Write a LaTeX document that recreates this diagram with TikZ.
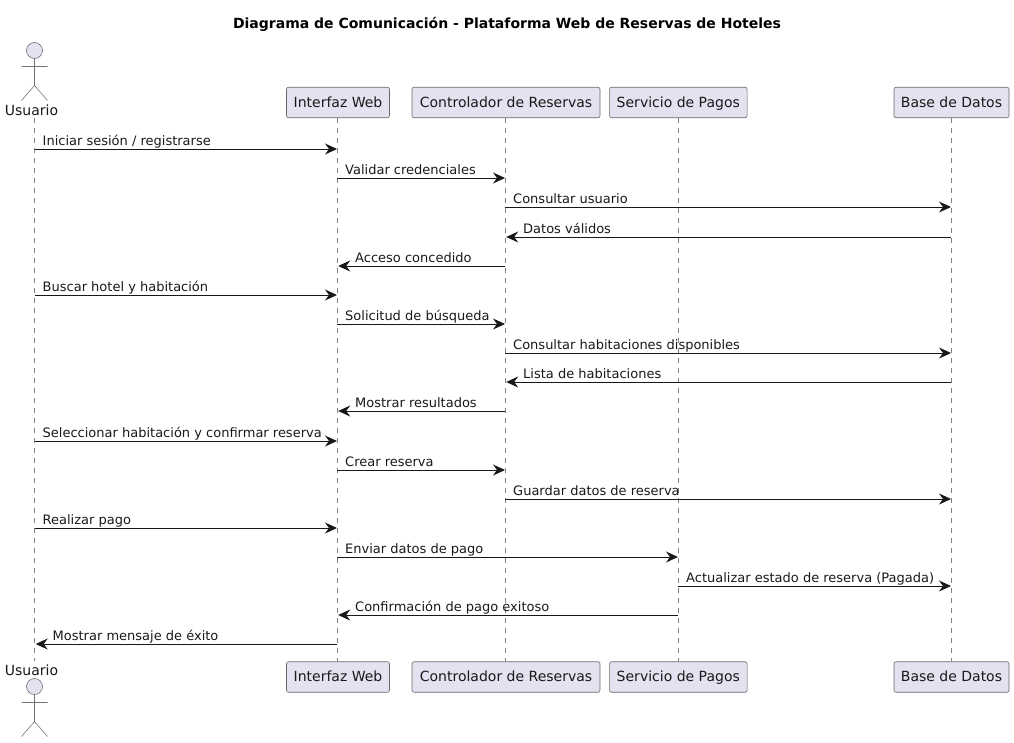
\documentclass[tikz,border=0pt]{standalone}
\usepackage{fontspec}
\setmainfont{DejaVu Sans}
\usetikzlibrary{arrows.meta}
\definecolor{boxfill}{HTML}{E2E2F0}
\definecolor{ink}{HTML}{181818}
\tikzset{
  part/.style={draw=ink!65,line width=0.6pt,fill=boxfill,rounded corners=2pt,font=\fontsize{14}{16}\selectfont,text=black!90,minimum height=30.5pt,inner sep=0pt,anchor=center,text height=12pt,text depth=2.5pt},
  life/.style={draw=ink!55,line width=0.5pt,dash pattern=on 5pt off 5pt},
  msgline/.style={draw=ink,line width=1pt,-{Stealth[length=12pt,width=11pt,inset=4pt,fill=ink]}},
  msgtext/.style={font=\fontsize{13}{15}\selectfont,text=black!90,anchor=base west,inner sep=0pt},
  actorline/.style={draw=ink!60,line width=0.6pt},
  actorname/.style={font=\fontsize{14}{16}\selectfont,text=black!90,anchor=base,inner sep=0pt}
}
\newcommand{\msgR}[5]{% id from to y text
  \coordinate (#1a) at (#2 |- 0,#4);
  \coordinate (#1b) at (#3 |- 0,#4);
  \draw[msgline] (#1a) -- (#1b);
  \node[msgtext] (#1t) at ([xshift=8pt,yshift=3.7pt]#1a) {#5};
}
\newcommand{\msgL}[5]{%
  \coordinate (#1a) at (#2 |- 0,#4);
  \coordinate (#1b) at (#3 |- 0,#4);
  \draw[msgline] (#1a) -- ([xshift=1.2pt]#1b);
  \node[msgtext] (#1t) at ([xshift=18pt,yshift=3.7pt]#1b) {#5};
}
\newcommand{\stick}[2]{% x, head y
  \draw[actorline,fill=boxfill] (#1,#2) circle[radius=8pt];
  \draw[actorline] (#1,#2+8) -- (#1,#2+35) (#1-13,#2+16) -- (#1+13,#2+16)
    (#1-13,#2+50) -- (#1,#2+35) -- (#1+13,#2+50);
}
\begin{document}
\begin{tikzpicture}[x=1pt,y=-1pt]
\useasboundingbox (0,0) rectangle (1014,742);
\node[font=\bfseries\fontsize{14}{16}\selectfont,text=black,anchor=base,inner sep=0pt] (title) at (507,28) {Diagrama de Comunicación - Plataforma Web de Reservas de Hoteles};
% top participants
\coordinate (u) at (34.5,118);
\node[part,minimum width=103pt] (i) at (338,102.5) {Interfaz Web};
\node[part,minimum width=188pt] (c) at (506,102.5) {Controlador de Reservas};
\node[part,minimum width=137.5pt] (s) at (678.3,102.5) {Servicio de Pagos};
\node[part,minimum width=115pt] (b) at (951.5,102.5) {Base de Datos};
% bottom participants
\coordinate (ub) at (34.5,661);
\node[part,minimum width=103pt] (ib) at (338,677) {Interfaz Web};
\node[part,minimum width=188pt] (cb) at (506,677) {Controlador de Reservas};
\node[part,minimum width=137.5pt] (sb) at (678.3,677) {Servicio de Pagos};
\node[part,minimum width=115pt] (bb) at (951.5,677) {Base de Datos};
% lifelines
\draw[life] (u) -- (ub);
\draw[life] (i.south -| 337,0) -- (ib.north -| 337,0);
\draw[life] (c.south -| 505,0) -- (cb.north -| 505,0);
\draw[life] (s.south -| 678,0) -- (sb.north -| 678,0);
\draw[life] (b.south -| 951,0) -- (bb.north -| 951,0);
\coordinate (I) at (337,0);
\coordinate (C) at (505,0);
\coordinate (S) at (678,0);
\coordinate (B) at (951,0);
% actors
\stick{34.5}{50.5}
\node[actorname] (ua) at (31.5,115) {Usuario};
\stick{34.5}{686.5}
\node[actorname] (uab) at (31.5,675) {Usuario};
% messages
\msgR{m1}{u}{I}{149}{Iniciar sesión / registrarse}
\msgR{m2}{I}{C}{178}{Validar credenciales}
\msgR{m3}{C}{B}{207}{Consultar usuario}
\msgL{m4}{B}{C}{237}{Datos válidos}
\msgL{m5}{C}{I}{266}{Acceso concedido}
\msgR{m6}{u}{I}{295}{Buscar hotel y habitación}
\msgR{m7}{I}{C}{324}{Solicitud de búsqueda}
\msgR{m8}{C}{B}{353}{Consultar habitaciones disponibles}
\msgL{m9}{B}{C}{382}{Lista de habitaciones}
\msgL{m10}{C}{I}{411}{Mostrar resultados}
\msgR{m11}{u}{I}{441}{Seleccionar habitación y confirmar reserva}
\msgR{m12}{I}{C}{470}{Crear reserva}
\msgR{m13}{C}{B}{499}{Guardar datos de reserva}
\msgR{m14}{u}{I}{528}{Realizar pago}
\msgR{m15}{I}{S}{557}{Enviar datos de pago}
\msgR{m16}{S}{B}{586}{Actualizar estado de reserva (Pagada)}
\msgL{m17}{S}{I}{615}{Confirmación de pago exitoso}
\msgL{m18}{I}{u}{644}{Mostrar mensaje de éxito}
\end{tikzpicture}
\end{document}
